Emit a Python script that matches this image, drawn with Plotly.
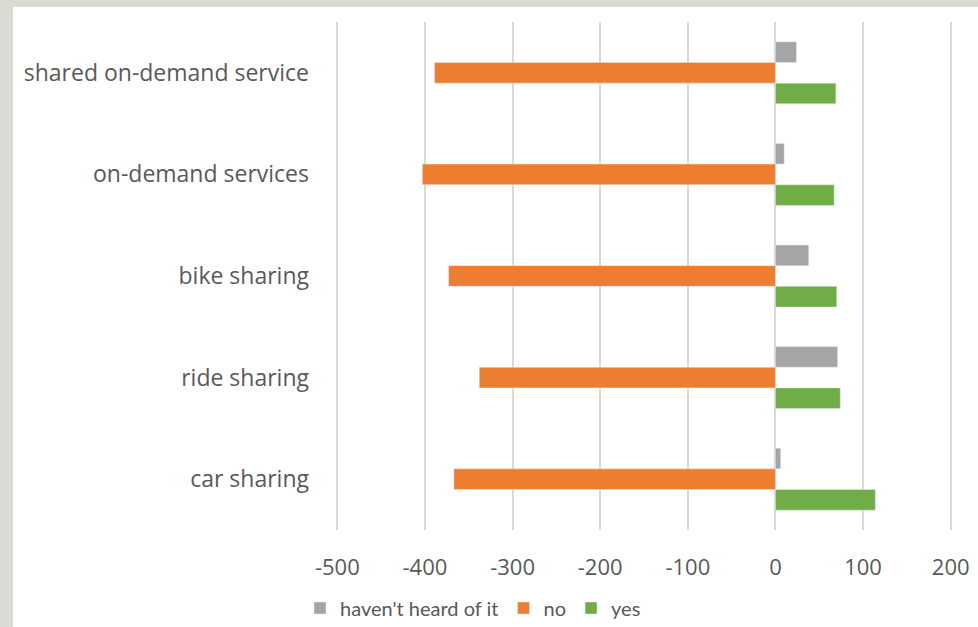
import plotly.graph_objects as go

categories = ["car sharing", "ride sharing", "bike sharing", "on-demand services", "shared on-demand service"]
havent_heard = [6, 71, 38, 10, 24]
no_vals = [-367, -338, -373, -403, -389]
yes_vals = [114, 74, 70, 67, 69]
tick_vals = [-500, -400, -300, -200, -100, 0, 100, 200]

W, H = 978, 627
L, R, T, B = 336, 26, 22, 97
pw = W - L - R
ph = H - T - B

font = "Open Sans"
txt = "#595959"

fig = go.Figure()
fig.add_trace(go.Bar(y=categories, x=yes_vals, orientation="h", name="yes",
                     marker=dict(color="#70ad47"), legendrank=3))
fig.add_trace(go.Bar(y=categories, x=no_vals, orientation="h", name="no",
                     marker=dict(color="#ed7d31"), legendrank=2))
fig.add_trace(go.Bar(y=categories, x=havent_heard, orientation="h", name="haven't heard of it",
                     marker=dict(color="#a5a5a5"), legendrank=1))

fig.update_layout(
    width=W, height=H,
    margin=dict(l=L, r=R, t=T, b=B),
    barmode="group", bargap=0.39, bargroupgap=0,
    paper_bgcolor="#dadcd3", plot_bgcolor="white",
    font=dict(family=font, color=txt, size=20),
    showlegend=True,
    legend=dict(orientation="h", xref="container", yref="container",
                x=300 / W, xanchor="left",
                y=1 - 608 / H, yanchor="middle",
                font=dict(size=20, color=txt, family="Lato"),
                bgcolor="rgba(0,0,0,0)",
                itemwidth=30, tracegroupgap=0),
    shapes=[dict(type="rect", xref="paper", yref="paper", layer="below",
                 x0=(13 - L) / pw, x1=(W + 5 - L) / pw,
                 y0=(H - B - (H + 5)) / ph, y1=(H - B - 7) / ph,
                 fillcolor="white", line=dict(width=0))],
)
fig.update_xaxes(range=[-501.5, 201.5], tickvals=tick_vals, ticktext=[str(v) for v in tick_vals],
                 showgrid=True, gridcolor="#d9d9d9", gridwidth=1.5,
                 zeroline=True, zerolinecolor="#d9d9d9", zerolinewidth=1.5,
                 showline=False, ticks="", ticklabelstandoff=22, automargin=False,
                 tickfont=dict(size=22, color=txt))
fig.update_yaxes(showgrid=False, showline=False, ticks="", ticklabelstandoff=26, automargin=False,
                 tickfont=dict(size=23, color=txt))

fig.write_html("out.html", config={"displayModeBar": False},
               post_script="document.body.style.margin='0';document.body.style.overflow='hidden';")
